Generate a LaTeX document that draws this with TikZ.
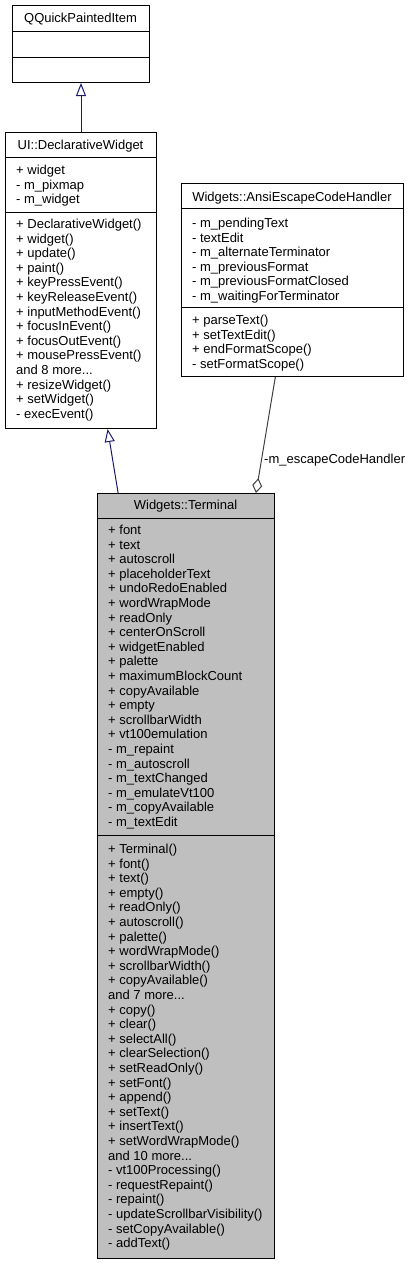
\documentclass[tikz,border=0pt]{standalone}
\usepackage{fontspec}
\setmainfont{Liberation Sans}
\usetikzlibrary{arrows.meta,calc}
\definecolor{edgeblue}{HTML}{191970}
\definecolor{aggr}{HTML}{404040}
\definecolor{mainfill}{HTML}{BFBFBF}
\newcommand\mydots{...}
\begin{document}
\begin{tikzpicture}[x=1pt,y=-1pt,
  font=\fontsize{13}{14.6}\selectfont,
  box/.style={draw=black, line width=1pt, inner sep=0pt, anchor=north west},
  sepline/.style={draw=black, line width=1pt},
  mem/.style={anchor=base west, inner sep=0pt},
  ttl/.style={anchor=base, inner sep=0pt},
  inh/.style={draw=edgeblue, line width=1pt, -{Triangle[open, length=13pt, width=10pt]}},
  agg/.style={draw=aggr, line width=1pt, -{Diamond[open, length=15pt, width=10pt]}}]
\useasboundingbox (0,0) rectangle (411,1264);

% ---- QQuickPaintedItem
\node[box, fill=white, minimum width=137pt, minimum height=77pt] (qq) at (12,5) {};
\draw[sepline] (12,31) -- (149,31);
\draw[sepline] (12,57) -- (149,57);
\node[ttl] (qqt) at (80.5,22.5) {QQuickPaintedItem};

% ---- UI::DeclarativeWidget
\node[box, fill=white, minimum width=151pt, minimum height=296pt] (dw) at (5,132) {};
\draw[sepline] (5,157) -- (156,157);
\draw[sepline] (5,212) -- (156,212);
\node[ttl] (dwt) at (80.5,149.5) {UI::DeclarativeWidget};
\foreach \t [count=\i from 0] in {+ widget, - m\_pixmap, - m\_widget}
  \node[mem] (dwa\i) at (16,{174.5+\i*14.6}) {\t};
\foreach \t [count=\i from 0] in {+ DeclarativeWidget(), + widget(), + update(), + paint(),
  + keyPressEvent(), + keyReleaseEvent(), + inputMethodEvent(), + focusInEvent(),
  + focusOutEvent(), + mousePressEvent(), and 8 more\mydots, + resizeWidget(),
  + setWidget(), - execEvent()}
  \node[mem] (dwm\i) at (16,{228.5+\i*14.6}) {\t};

% ---- Widgets::AnsiEscapeCodeHandler
\node[box, fill=white, minimum width=222pt, minimum height=193pt] (ansi) at (181,183) {};
\draw[sepline] (181,208) -- (403,208);
\draw[sepline] (181,307) -- (403,307);
\node[ttl] (ansit) at (292,201.5) {Widgets::AnsiEscapeCodeHandler};
\foreach \t [count=\i from 0] in {- m\_pendingText, - textEdit, - m\_alternateTerminator,
  - m\_previousFormat, - m\_previousFormatClosed, - m\_waitingForTerminator}
  \node[mem] (ansia\i) at (192,{227.5+\i*14.6}) {\t};
\foreach \t [count=\i from 0] in {+ parseText(), + setTextEdit(), + endFormatScope(),
  - setFormatScope()}
  \node[mem] (ansim\i) at (192,{324.5+\i*14.6}) {\t};

% ---- Widgets::Terminal
\node[box, fill=mainfill, minimum width=177pt, minimum height=765pt] (term) at (97,493) {};
\draw[sepline] (97,518) -- (274,518);
\draw[sepline] (97,835) -- (274,835);
\node[ttl] (termt) at (185.5,509.5) {Widgets::Terminal};
\foreach \t [count=\i from 0] in {+ font, + text, + autoscroll, + placeholderText,
  + undoRedoEnabled, + wordWrapMode, + readOnly, + centerOnScroll, + widgetEnabled,
  + palette, + maximumBlockCount, + copyAvailable, + empty, + scrollbarWidth,
  + vt100emulation, - m\_repaint, - m\_autoscroll, - m\_textChanged,
  - m\_emulateVt100, - m\_copyAvailable, - m\_textEdit}
  \node[mem] (terma\i) at (108,{534.5+\i*14.6}) {\t};
\foreach \t [count=\i from 0] in {+ Terminal(), + font(), + text(), + empty(),
  + readOnly(), + autoscroll(), + palette(), + wordWrapMode(), + scrollbarWidth(),
  + copyAvailable(), and 7 more\mydots, + copy(), + clear(), + selectAll(),
  + clearSelection(), + setReadOnly(), + setFont(), + append(), + setText(),
  + insertText(), + setWordWrapMode(), and 10 more\mydots, - vt100Processing(),
  - requestRepaint(), - repaint(), - updateScrollbarVisibility(),
  - setCopyAvailable(), - addText()}
  \node[mem] (termm\i) at (108,{853.5+\i*14.6}) {\t};

% ---- connectors
\draw[inh] (dw.north) -- (qq.south);
\draw[inh] ($(term.north west)!0.1186!(term.north east)$) -- ($(dw.south west)!0.675!(dw.south east)$);
\draw[agg] ($(ansi.south west)!0.423!(ansi.south east)$) -- ($(term.north west)!0.893!(term.north east)$);
\node[anchor=base west, inner sep=0pt] (agglbl) at (264,463.5) {-m\_escapeCodeHandler};
\end{tikzpicture}
\end{document}
